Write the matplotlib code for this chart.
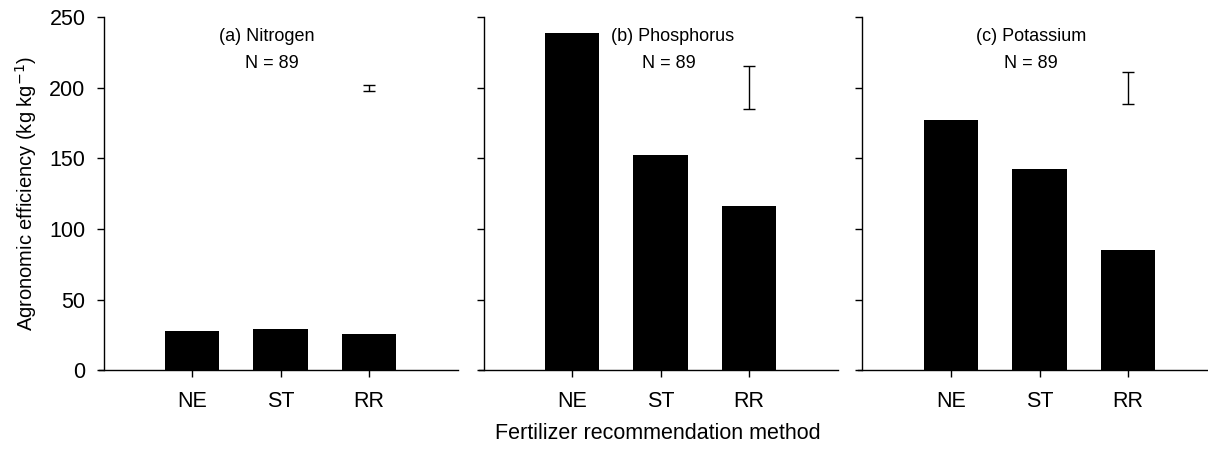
import matplotlib
matplotlib.use("Agg")
import matplotlib.pyplot as plt

plt.rcParams["font.family"] = ["Liberation Sans", "DejaVu Sans"]

# Agronomic efficiency by recommendation method (kg grain per kg nutrient)
methods = ["NE", "ST", "RR"]
nitrogen = [27.8, 29.2, 25.5]
phosphorus = [238.7, 152.5, 116.4]
potassium = [177.0, 142.3, 85.2]

panel_titles = ["(a) Nitrogen", "(b) Phosphorus", "(c) Potassium"]
sample_size = [89, 89, 89]

# error bar shown at y = 200 above RR in each panel
err_center = [200, 200, 200]
err_half = [2.2, 15.2, 11.5]

series = [nitrogen, phosphorus, potassium]
title_x = [1.84, 2.14, 1.90]
n_x = [1.90, 2.10, 1.90]

fig = plt.figure(figsize=(12.08, 4.5), dpi=100)

W = 1208.0
H = 450.0
unit = 88.5          # pixels per category step
ext = 0.056          # x axis runs a little left of the y axis
zero_px = [103.5, 483.5, 862.5]
bottom = (H - 370.3) / H
height = (370.3 - 17.3) / H

x = [1, 2, 3]
for i, vals in enumerate(series):
    left = (zero_px[i] - ext * unit) / W
    width = (4 + ext) * unit / W
    ax = fig.add_axes([left, bottom, width, height])

    ax.bar(x, vals, width=0.62, color="black", edgecolor="black", linewidth=0)
    ax.errorbar([3], [err_center[i]], yerr=[err_half[i]], fmt="none",
                ecolor="black", elinewidth=1.0, capsize=4, capthick=1.0)

    ax.text(title_x[i], 236.7, panel_titles[i], ha="center", va="center", fontsize=13)
    ax.text(n_x[i], 217.4, "N = %d" % sample_size[i], ha="center", va="center", fontsize=13)

    ax.set_xlim(-ext, 4)
    ax.set_ylim(0, 250)
    ax.spines["left"].set_position(("data", 0))
    ax.spines["top"].set_visible(False)
    ax.spines["right"].set_visible(False)
    for s in ("left", "bottom"):
        ax.spines[s].set_linewidth(1.0)

    ax.set_xticks(x)
    ax.set_xticklabels(methods)
    ax.set_yticks([0, 50, 100, 150, 200, 250])
    ax.tick_params(axis="x", direction="out", length=5, width=1.0, pad=10, labelsize=15.5)
    ax.tick_params(axis="y", direction="out", length=5, width=1.0, pad=8, labelsize=15.5)
    if i == 0:
        ax.set_ylabel("Agronomic efficiency (kg kg$^{-1}$)", fontsize=14.5, labelpad=7)
    else:
        ax.set_yticklabels([])
    if i == 1:
        ax.set_xlabel("Fertilizer recommendation method", fontsize=15.5, labelpad=8)

fig.savefig("out.png", dpi=100)
